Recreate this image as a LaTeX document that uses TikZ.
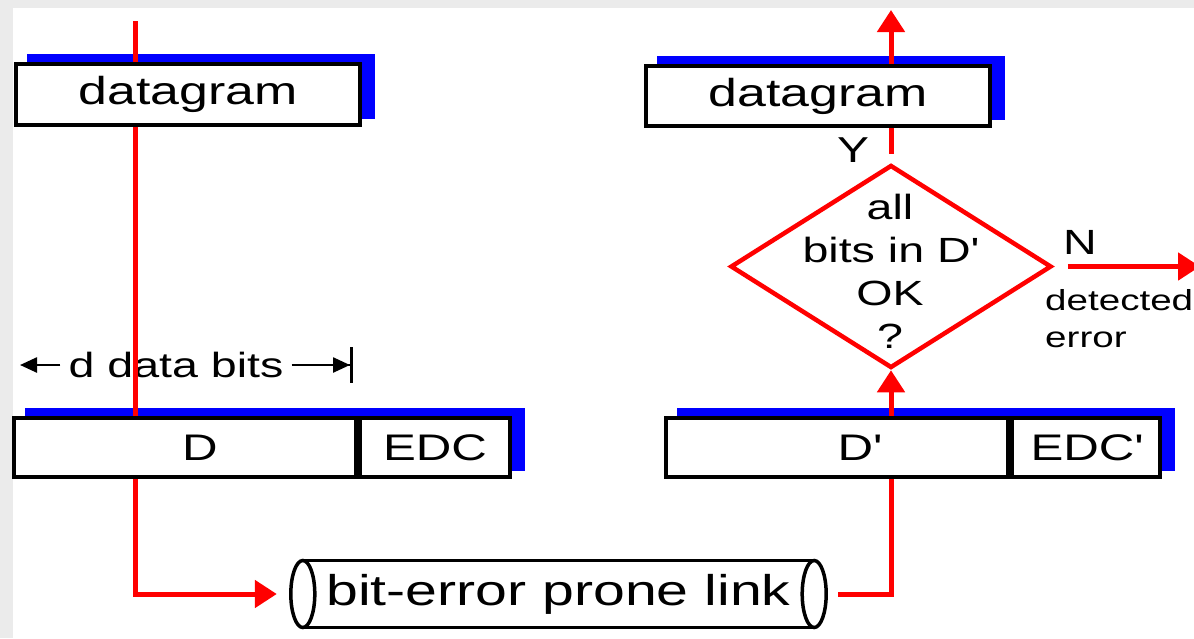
\documentclass[tikz,border=0pt]{standalone}
\usepackage{fontspec}
\setmainfont{Liberation Sans}[FakeStretch=1.33]
\usetikzlibrary{arrows.meta,shapes.geometric}
\definecolor{slidegray}{RGB}{235,235,235}
\pgfdeclarelayer{back}
\pgfdeclarelayer{wires}
\pgfsetlayers{back,wires,main}
\tikzset{
	box/.style={draw, line width=4pt, fill=white, inner sep=0pt, minimum height=59pt},
	wire/.style={red, line width=5pt},
	redtip/.style={-{Triangle[length=22pt,width=27pt]}},
	dimline/.style={line width=2.5pt, -{Triangle[length=17pt,width=15pt]}}
}
\begin{document}
\begin{tikzpicture}[x=1pt, y=-1pt, line join=miter, inner sep=0pt]
	\useasboundingbox (0,0) rectangle (1194,638);
	% sender side
	\node[box, minimum width=344pt, minimum height=61pt, font=\fontsize{39}{42}\selectfont] (dg1) at (188,94.5) {datagram};
	\node[box, minimum width=342pt] (d1) at (185,447.5) {};
	\node[box, minimum width=150pt, anchor=west, font=\fontsize{37}{40}\selectfont] (edc1) at (d1.east) {EDC};
	\node[font=\fontsize{37}{40}\selectfont] (dtxt1) at (200,447.5) {D};
	% receiver side
	\node[box, minimum width=344pt, minimum height=60pt, font=\fontsize{39}{42}\selectfont] (dg2) at (818,96) {datagram};
	\node[box, minimum width=342pt] (d2) at (837,447.5) {};
	\node[box, minimum width=148pt, anchor=west, font=\fontsize{37}{40}\selectfont] (edc2) at (d2.east) {EDC\textquotesingle};
	\node[font=\fontsize{37}{40}\selectfont] (dtxt2) at (859,447.5) {D\textquotesingle};
	\node[diamond, draw=red, line width=4.5pt, minimum width=321pt, minimum height=203pt] (chk) at (891,266.5) {};
	\node[align=center, font=\fontsize{35}{43}\selectfont] (chktxt) at (890,271) {all\\bits in D\textquotesingle\\OK\\?};
	\node[font=\fontsize{36}{40}\selectfont] (yes) at (853,150) {Y};
	\node[font=\fontsize{35}{40}\selectfont] (no) at (1080,242) {N};
	\node[anchor=north west, align=left, font=\fontsize{29}{37}\selectfont] (err) at (1045,289) {detected\\error};
	% link
	\node[minimum width=535pt, minimum height=67pt, font=\fontsize{43}{48}\selectfont] (link) at (558.5,594) {bit-error prone link};
	\draw[line width=3.5pt] ([xshift=12pt]link.north west) -- ([xshift=-12pt]link.north east)
		([xshift=12pt]link.south west) -- ([xshift=-12pt]link.south east);
	\foreach \s/\p in {12/west,-12/east}
		\draw[line width=3.5pt] ([xshift=\s pt]link.\p) ellipse [x radius=12pt, y radius=33.5pt];
	\begin{pgfonlayer}{back}
		\fill[slidegray] (0,0) rectangle (1194,638);
		\fill[white] (13,8) rectangle (1194,638);
		\foreach \a/\b in {dg1/dg1,d1/edc1,dg2/dg2,d2/edc2}
			\fill[blue] ([shift={(13,-8.5)}]\a.south west) rectangle ([shift={(13,-8.5)}]\b.north east);
		% d data bits
		\node[font=\fontsize{35}{40}\selectfont] (dbits) at (176,365) {d data bits};
		\coordinate (dl) at (20,365);
		\coordinate (dr) at (353,365);
		\draw[dimline, shorten <=8pt] (dbits.west) -- (dl);
		\draw[line width=2.5pt, -{Triangle[length=17pt,width=15pt]Bar[width=36pt,line width=3pt]}, shorten <=8pt] (dbits.east) -- (dr);
	\end{pgfonlayer}
	\begin{pgfonlayer}{wires}
		\coordinate (src) at (135,21);
		\coordinate (out) at (0,10);
		\coordinate (nout) at (1200,0);
		\draw[wire, redtip, shorten >=14pt] (src) |- (link.west);
		\draw[wire, redtip, shorten <=12pt] (link.east) -| (chk.south);
		\draw[wire, redtip, shorten <=9pt] (chk.north) -- (chk.north |- out);
		\draw[wire, redtip, shorten <=14pt] (chk.east) -- (chk.east -| nout);
	\end{pgfonlayer}
\end{tikzpicture}
\end{document}
